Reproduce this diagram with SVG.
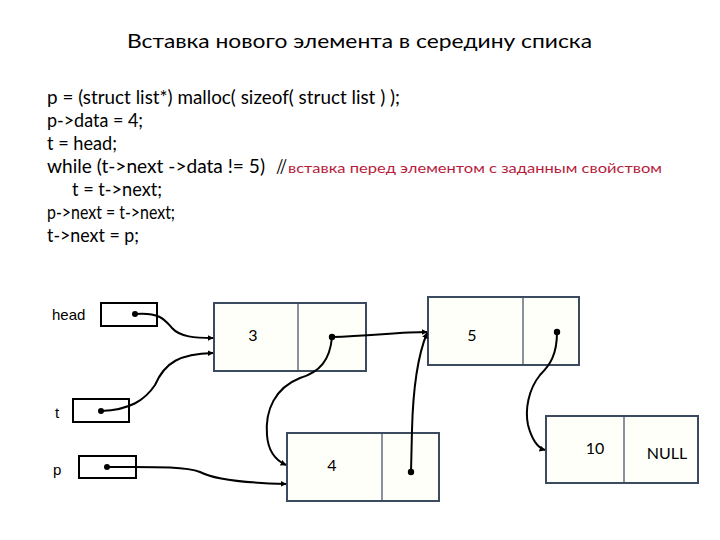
<svg xmlns="http://www.w3.org/2000/svg" width="720" height="540" viewBox="0 0 720 540">
<defs>
<marker id="ah" viewBox="0 0 10 10" refX="9" refY="5" markerWidth="6" markerHeight="6" orient="auto" markerUnits="userSpaceOnUse"><path d="M0,0 L10,5 L0,10 z" fill="#000"/></marker>
<style>
.h{font-family:Lato,"Open Sans","Liberation Sans",sans-serif;font-size:19px;fill:#000}
.t{font-family:Lato,"Open Sans","Liberation Sans",sans-serif;font-size:18.5px;fill:#000}
.c{font-family:Lato,"Open Sans","Liberation Sans",sans-serif;font-size:14px;fill:#b81c3c}
.lbl{font-family:"Liberation Sans",Arial,sans-serif;font-size:15px;fill:#000}
.nv{font-family:Lato,"Open Sans","Liberation Sans",sans-serif;font-size:16px;fill:#000}
.node{fill:#fffffa;stroke:#3b4a5e;stroke-width:2}
.div{stroke:#3b4a5e;stroke-width:1.2}
.ptr{fill:#fff;stroke:#000;stroke-width:2}
.dot{fill:#000}
.con{fill:none;stroke:#000;stroke-width:2;marker-end:url(#ah)}
</style>
</defs>
<rect width="720" height="540" fill="#fff"/>
<text class="h" x="127" y="48" textLength="465" lengthAdjust="spacingAndGlyphs">Вставка нового элемента в середину списка</text>
<g id="code">
<text class="t" x="47" y="104" textLength="353" lengthAdjust="spacingAndGlyphs">p = (struct list*) malloc( sizeof( struct list ) );</text>
<text class="t" x="47" y="127" textLength="96" lengthAdjust="spacingAndGlyphs">p-&gt;data = 4;</text>
<text class="t" x="47" y="150" textLength="70" lengthAdjust="spacingAndGlyphs">t = head;</text>
<text class="t" x="47" y="173" textLength="218" lengthAdjust="spacingAndGlyphs">while (t-&gt;next -&gt;data != 5)</text>
<text class="t" x="276" y="173" textLength="11" lengthAdjust="spacingAndGlyphs">//</text>
<text class="c" x="288" y="173" textLength="374" lengthAdjust="spacingAndGlyphs">вставка перед элементом с заданным свойством</text>
<text class="t" x="72" y="196" textLength="90" lengthAdjust="spacingAndGlyphs">t = t-&gt;next;</text>
<text class="t" x="47" y="219" textLength="128" lengthAdjust="spacingAndGlyphs">p-&gt;next = t-&gt;next;</text>
<text class="t" x="47" y="242" textLength="92" lengthAdjust="spacingAndGlyphs">t-&gt;next = p;</text>
</g>
<g id="head">
<text class="lbl" x="52" y="320">head</text>
<rect class="ptr" x="101" y="303" width="56" height="23"/>
<circle class="dot" cx="135" cy="314" r="3"/>
</g>
<g id="t">
<text class="lbl" x="55" y="418">t</text>
<rect class="ptr" x="73" y="399" width="56" height="23"/>
<circle class="dot" cx="101" cy="411" r="3"/>
</g>
<g id="p">
<text class="lbl" x="53" y="475">p</text>
<rect class="ptr" x="79" y="456" width="57" height="22"/>
<circle class="dot" cx="107" cy="467" r="3"/>
</g>
<g id="n3">
<rect class="node" x="214" y="303" width="152" height="68"/>
<line class="div" x1="298" y1="303" x2="298" y2="371"/>
<text class="nv" x="253" y="341" text-anchor="middle">3</text>
<circle class="dot" cx="332" cy="337" r="3.2"/>
</g>
<g id="n5">
<rect class="node" x="428" y="297" width="151" height="68"/>
<line class="div" x1="523" y1="297" x2="523" y2="365"/>
<text class="nv" x="472" y="341" text-anchor="middle">5</text>
<circle class="dot" cx="557" cy="332" r="3.2"/>
</g>
<g id="n4">
<rect class="node" x="287" y="433" width="152" height="68"/>
<line class="div" x1="382" y1="433" x2="382" y2="501"/>
<text class="nv" x="332" y="471" text-anchor="middle">4</text>
<circle class="dot" cx="411" cy="472" r="3.2"/>
</g>
<g id="n10">
<rect class="node" x="546" y="416" width="152" height="67"/>
<line class="div" x1="624" y1="416" x2="624" y2="483"/>
<text class="nv" x="595" y="454" text-anchor="middle">10</text>
<text class="nv" x="667" y="459" text-anchor="middle" font-size="15">NULL</text>
</g>
<g id="connectors">
<path class="con" d="M135,314 C160,312 165,320 172,328 C180,337 195,338 213,338"/>
<path class="con" d="M101,411 C130,410 145,400 155,385 C165,362 180,354 213,353"/>
<path class="con" d="M332,337 C330,360 320,372 300,378 C275,388 265,410 267,435 C268,450 275,460 286,465"/>
<path class="con" d="M332,337 C370,336 400,332 427,332"/>
<path class="con" d="M411,472 L412,430 C413,390 418,355 427,333"/>
<path class="con" d="M557,332 C557,355 550,365 540,375 C528,390 525,410 528,425 C532,440 538,448 545,450"/>
<path class="con" d="M107,467 C150,467 185,466 200,472 C215,480 250,483 286,484"/>
</g>
</svg>
